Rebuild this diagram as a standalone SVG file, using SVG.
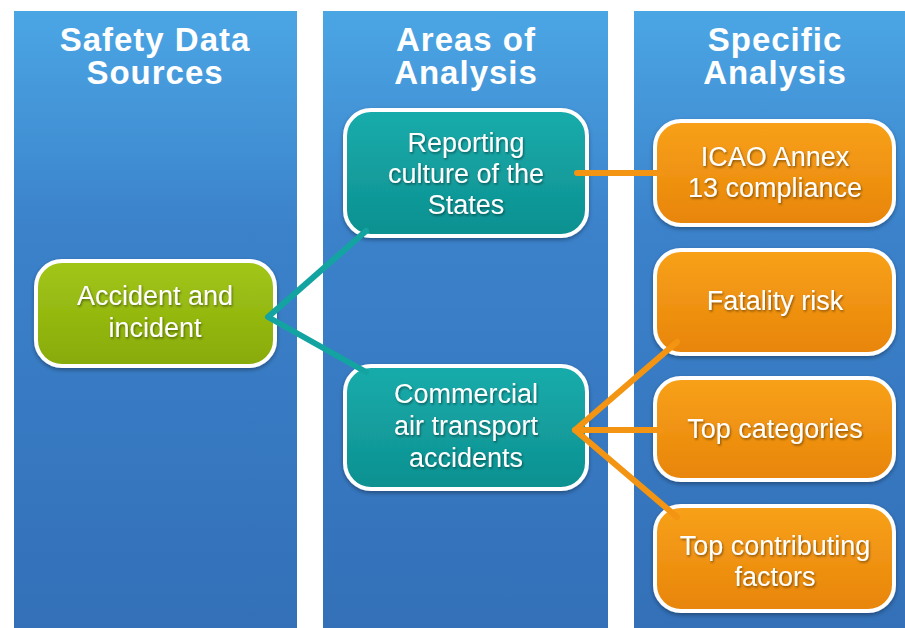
<svg xmlns="http://www.w3.org/2000/svg" width="905" height="628" viewBox="0 0 905 628">
<defs>
<linearGradient id="colG" x1="0" y1="0" x2="0" y2="1">
<stop offset="0" stop-color="#4ba6e4"/>
<stop offset="0.35" stop-color="#3b82cb"/>
<stop offset="1" stop-color="#3370b8"/>
</linearGradient>
<linearGradient id="greenG" x1="0" y1="0" x2="0" y2="1">
<stop offset="0" stop-color="#a2c619"/>
<stop offset="1" stop-color="#88ab08"/>
</linearGradient>
<linearGradient id="tealG" x1="0" y1="0" x2="0" y2="1">
<stop offset="0" stop-color="#17acab"/>
<stop offset="1" stop-color="#0e9090"/>
</linearGradient>
<linearGradient id="orangeG" x1="0" y1="0" x2="0" y2="1">
<stop offset="0" stop-color="#f8a11a"/>
<stop offset="1" stop-color="#e8850a"/>
</linearGradient>
<filter id="sh" x="-10%" y="-10%" width="120%" height="130%">
<feDropShadow dx="0" dy="2" stdDeviation="2" flood-color="#000" flood-opacity="0.35"/>
</filter>
<filter id="tsh" x="-10%" y="-20%" width="120%" height="150%">
<feDropShadow dx="1" dy="1.5" stdDeviation="1" flood-color="#000" flood-opacity="0.45"/>
</filter>
</defs>
<style>
.col{fill:url(#colG);}
.hdr{font-family:"Liberation Sans",Arial,sans-serif;font-weight:bold;font-size:33px;letter-spacing:1px;fill:#fff;text-anchor:middle;}
.box{stroke:#fff;stroke-width:4;filter:url(#sh);}
.t{font-family:"Liberation Sans",Arial,sans-serif;font-size:27px;fill:#fff;text-anchor:middle;filter:url(#tsh);}
.teal{stroke:#13a4a2;stroke-width:6;fill:none;stroke-linecap:round;stroke-linejoin:round;}
.orng{stroke:#f39412;stroke-width:6;fill:none;stroke-linecap:round;stroke-linejoin:round;}
</style>
<rect width="905" height="628" fill="#fff"/>
<g id="columns">
<rect class="col" x="14" y="11" width="283" height="617"/>
<rect class="col" x="323" y="11" width="285" height="617"/>
<rect class="col" x="634" y="11" width="271" height="617"/>
<text class="hdr" x="155" y="51">Safety Data</text>
<text class="hdr" x="155" y="84">Sources</text>
<text class="hdr" x="466" y="51">Areas of</text>
<text class="hdr" x="466" y="84">Analysis</text>
<text class="hdr" x="775" y="51">Specific</text>
<text class="hdr" x="775" y="84">Analysis</text>
</g>
<g id="n-accident">
<rect class="box" x="36" y="261" width="239" height="105" rx="26" fill="url(#greenG)"/>
<text class="t" x="155" y="305">Accident and</text>
<text class="t" x="155" y="337">incident</text>
</g>
<g id="n-reporting">
<rect class="box" x="345" y="110" width="242" height="126" rx="26" fill="url(#tealG)"/>
<text class="t" x="466" y="152">Reporting</text>
<text class="t" x="466" y="183">culture of the</text>
<text class="t" x="466" y="214">States</text>
</g>
<g id="n-commercial">
<rect class="box" x="345" y="366" width="242" height="123" rx="26" fill="url(#tealG)"/>
<text class="t" x="466" y="403">Commercial</text>
<text class="t" x="466" y="435">air transport</text>
<text class="t" x="466" y="467">accidents</text>
</g>
<g id="n-icao">
<rect class="box" x="655" y="121" width="239" height="104" rx="26" fill="url(#orangeG)"/>
<text class="t" x="775" y="166">ICAO Annex</text>
<text class="t" x="775" y="197">13 compliance</text>
</g>
<g id="n-fatality">
<rect class="box" x="655" y="250" width="239" height="104" rx="26" fill="url(#orangeG)"/>
<text class="t" x="775" y="310">Fatality risk</text>
</g>
<g id="n-topcat">
<rect class="box" x="655" y="378" width="239" height="102" rx="26" fill="url(#orangeG)"/>
<text class="t" x="775" y="438">Top categories</text>
</g>
<g id="n-topcontrib">
<rect class="box" x="655" y="506" width="239" height="105" rx="26" fill="url(#orangeG)"/>
<text class="t" x="775" y="555">Top contributing</text>
<text class="t" x="775" y="586">factors</text>
</g>
<g id="connectors">
<polyline class="teal" points="366,231 268,317 366,372"/>
<line class="orng" x1="577" y1="173" x2="662" y2="173"/>
<polyline class="orng" points="677,342 575,430 677,517"/>
<line class="orng" x1="575" y1="430" x2="662" y2="430"/>
</g>
</svg>
